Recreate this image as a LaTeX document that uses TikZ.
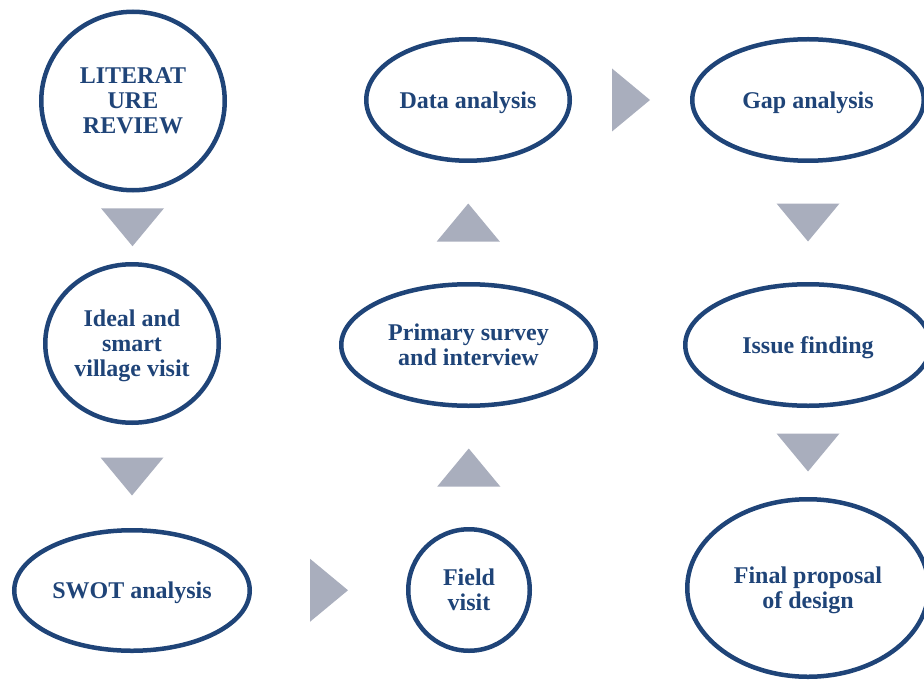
\documentclass[tikz,border=0pt]{standalone}
\usepackage{fontspec}
\setmainfont{Liberation Serif}
\usetikzlibrary{shapes.geometric,calc}
\definecolor{stageblue}{HTML}{1F4478}
\definecolor{trigray}{HTML}{A9AEBD}
\begin{document}
\begin{tikzpicture}[x=0.5pt, y=-0.5pt,
		stage/.style={ellipse, draw=stageblue, line width=2.25pt, inner sep=0pt,
			align=center, text=stageblue, font=\bfseries\fontsize{12}{12.5}\selectfont},
		flat/.style={text depth=0pt},
		tri/.style={fill=trigray}]
		% Frame
		\useasboundingbox (0,0) rectangle (924,684);
		
		% Stages
		\node[stage, minimum width=91.75pt, minimum height=89.25pt] (lit) at (133,101) {LITERAT\\URE\\REVIEW};
		\node[stage, flat, minimum width=86.75pt, minimum height=79.25pt] (ideal) at (132,343.5) {Ideal and\\smart\\village visit};
		\node[stage, flat, minimum width=117.75pt, minimum height=60.25pt] (swot) at (132,590.5) {SWOT analysis};
		\node[stage, minimum width=60.75pt, minimum height=60.75pt] (field) at (469,590) {Field\\visit};
		\node[stage, minimum width=127.25pt, minimum height=60.75pt] (survey) at (468.5,345) {Primary survey\\and interview};
		\node[stage, flat, minimum width=101.75pt, minimum height=60.75pt] (data) at (468,100) {Data analysis};
		\node[stage, flat, minimum width=115.75pt, minimum height=60.75pt] (gap) at (808,100) {Gap analysis};
		\node[stage, flat, minimum width=122.75pt, minimum height=60.75pt] (issue) at (808,345) {Issue finding};
		\node[stage, flat, minimum width=120.75pt, minimum height=88.75pt] (final) at (808,588) {Final proposal\\of design};
		
		% Triangles between stages
		\foreach \a/\b/\r in {lit.south/ideal.north/0, ideal.south/swot.north/0,
			swot.east/field.west/90, field.north/survey.south/180,
			survey.north/data.south/180, data.east/gap.west/90,
			gap.south/issue.north/0, issue.south/final.north/0}
		\fill[tri, shift={($(\a)!0.5!(\b)$)}, rotate=\r] (-31.5,-19) -- (31.5,-19) -- (0,19) -- cycle;
	\end{tikzpicture}
\end{document}
